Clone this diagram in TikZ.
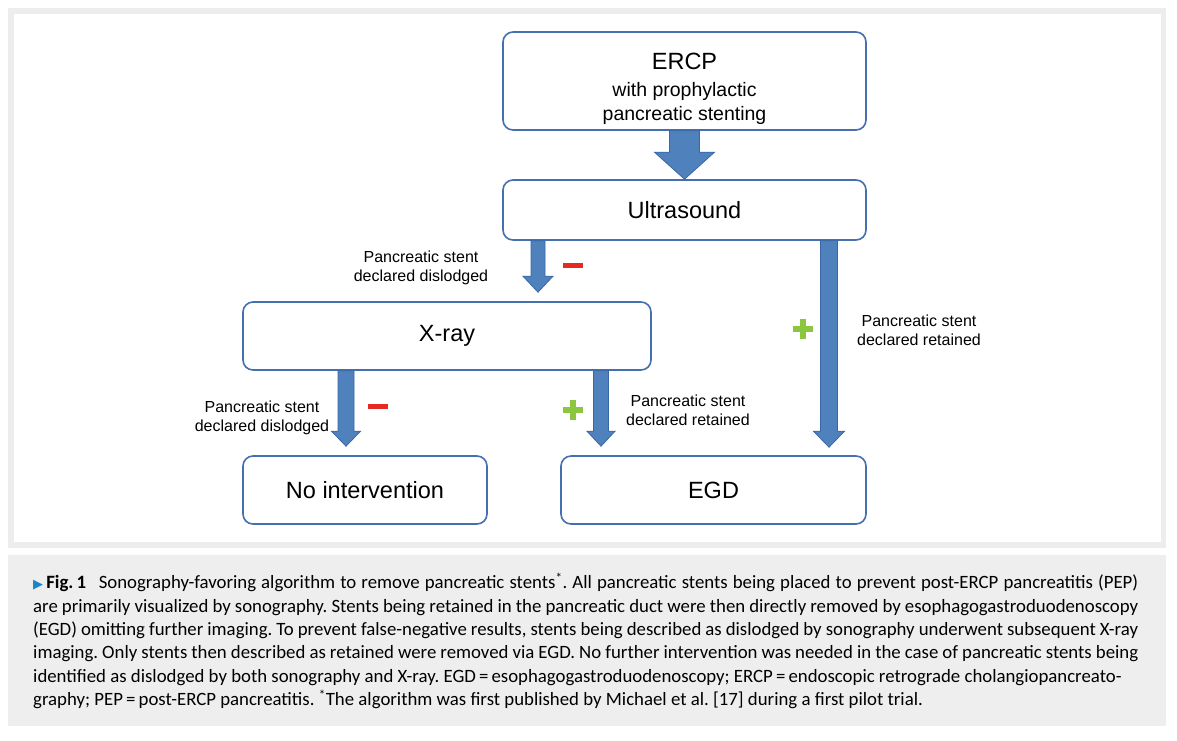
\documentclass[tikz,border=0pt]{standalone}
\usepackage{fontspec}
\setmainfont{Liberation Sans}
\newfontfamily\capfont{Carlito}
\newfontfamily\symfont{DejaVu Sans}
\usetikzlibrary{positioning,calc}

\definecolor{boxblue}{HTML}{4470B0}
\definecolor{arrowblue}{HTML}{4F81BD}
\definecolor{arrowedge}{HTML}{3A67A6}
\definecolor{minusred}{HTML}{E42A21}
\definecolor{plusgreen}{HTML}{8CC63E}
\definecolor{figblue}{HTML}{1A86C8}
\definecolor{capgray}{HTML}{EEEEEE}
\definecolor{framegray}{HTML}{EDEDED}

% block arrow: x, from node, to node, gap, half shaft, half head, head length
\newcommand{\barrow}[7]{%
  \filldraw[blockarrow] let \p1=(#2.south), \p2=(#3.north) in
    (#1-#5,\y1) -- (#1-#5,{\y2+#4pt+#7pt}) -- (#1-#6,{\y2+#4pt+#7pt}) -- (#1,{\y2+#4pt})
    -- (#1+#6,{\y2+#4pt+#7pt}) -- (#1+#5,{\y2+#4pt+#7pt}) -- (#1+#5,\y1) -- cycle;}

\begin{document}
\begin{tikzpicture}[x=1pt, y=-1pt]
    \tikzstyle{box} = [rectangle, draw=boxblue, line width=1.6pt, fill=white, rounded corners=10pt, align=center, font=\fontsize{23.5}{27}\selectfont]
    \tikzstyle{blockarrow} = [fill=arrowblue, draw=arrowedge, line width=0.8pt, line join=miter]
    \tikzstyle{note} = [align=center, font=\fontsize{16}{19}\selectfont, inner sep=0pt]
    \tikzstyle{minus} = [minusred, line width=5pt]
    \tikzstyle{plus} = [plusgreen, line width=6.5pt]

    \useasboundingbox (0,0) rectangle (1177,740);
    \fill[white] (0,0) rectangle (1177,740);
    % figure frame and caption panel
    \fill[framegray] (8,8) rectangle (1166,548);
    \fill[white] (14,14) rectangle (1161,542);
    \fill[capgray] (8,555) rectangle (1166,726);

    \node (ercp) [box, minimum width=363pt, minimum height=98pt] at (684.5,81) {};
    \node (ercptext) [align=center, inner sep=0pt, font=\fontsize{19.5}{24}\selectfont] at (684.5,89)
        {{\fontsize{23.5}{27}\selectfont ERCP}\\[3pt]with prophylactic\\pancreatic stenting};
    \node (us) [box, minimum width=363pt, minimum height=60pt] at (684.5,210) {Ultrasound};
    \node (xray) [box, minimum width=408pt, minimum height=68pt] at (447,336) {X-ray};
    \node (noint) [box, minimum width=244pt, minimum height=68pt] at (365,490) {No intervention};
    \node (egd) [box, minimum width=305pt, minimum height=68pt] at (713.5,490) {EGD};

    \barrow{684.5}{ercp}{us}{0}{15}{30}{27}
    \barrow{538}{us}{xray}{9}{7}{15}{16}
    \barrow{829}{us}{egd}{8}{8.5}{15.5}{16}
    \barrow{346}{xray}{noint}{9}{8}{14.5}{15}
    \barrow{601}{xray}{egd}{9}{7.5}{14}{15}

    \node (lblA) [note] at (421,268) {Pancreatic stent\\declared dislodged};
    \node (lblB) [note] at (262,418) {Pancreatic stent\\declared dislodged};
    \node (lblC) [note] at (688,410) {Pancreatic stent\\declared retained};
    \node (lblD) [note] at (919,330) {Pancreatic stent\\declared retained};

    \draw[minus] (563,265) -- (583,265);
    \draw[minus] (368,406) -- (388,406);
    \draw[plus] (563,410) -- (583,410) (573,400) -- (573,420);
    \draw[plus] (793,329) -- (813,329) (803,319) -- (803,339);

    \node (caption) [anchor=north west, text width=1105pt, align=justify, inner sep=0pt,
        font=\capfont\fontsize{18.8}{23.3}\selectfont\frenchspacing] at (33,573)
        {{\symfont\color{figblue}\fontsize{13}{13}\selectfont ▶}\,\textbf{Fig.\,1}\hspace{0.4em} Sonography-favoring algorithm to remove pancreatic stents\textsuperscript{*}. All pancreatic stents being placed to prevent post-ERCP pancreatitis (PEP)\linebreak
        are primarily visualized by sonography. Stents being retained in the pancreatic duct were then directly removed by esophagogastroduodenoscopy\linebreak
        (EGD) omitting further imaging. To prevent false-negative results, stents being described as dislodged by sonography underwent subsequent X-ray\linebreak
        imaging. Only stents then described as retained were removed via EGD. No further intervention was needed in the case of pancreatic stents being\linebreak
        identified as dislodged by both sonography and X-ray. EGD\,=\,esophagogastroduodenoscopy; ERCP\,=\,endoscopic retrograde cholangiopancreato-\\
        graphy; PEP\,=\,post-ERCP pancreatitis. \textsuperscript{*}The algorithm was first published by Michael et al. [17] during a first pilot trial.};
\end{tikzpicture}
\end{document}
